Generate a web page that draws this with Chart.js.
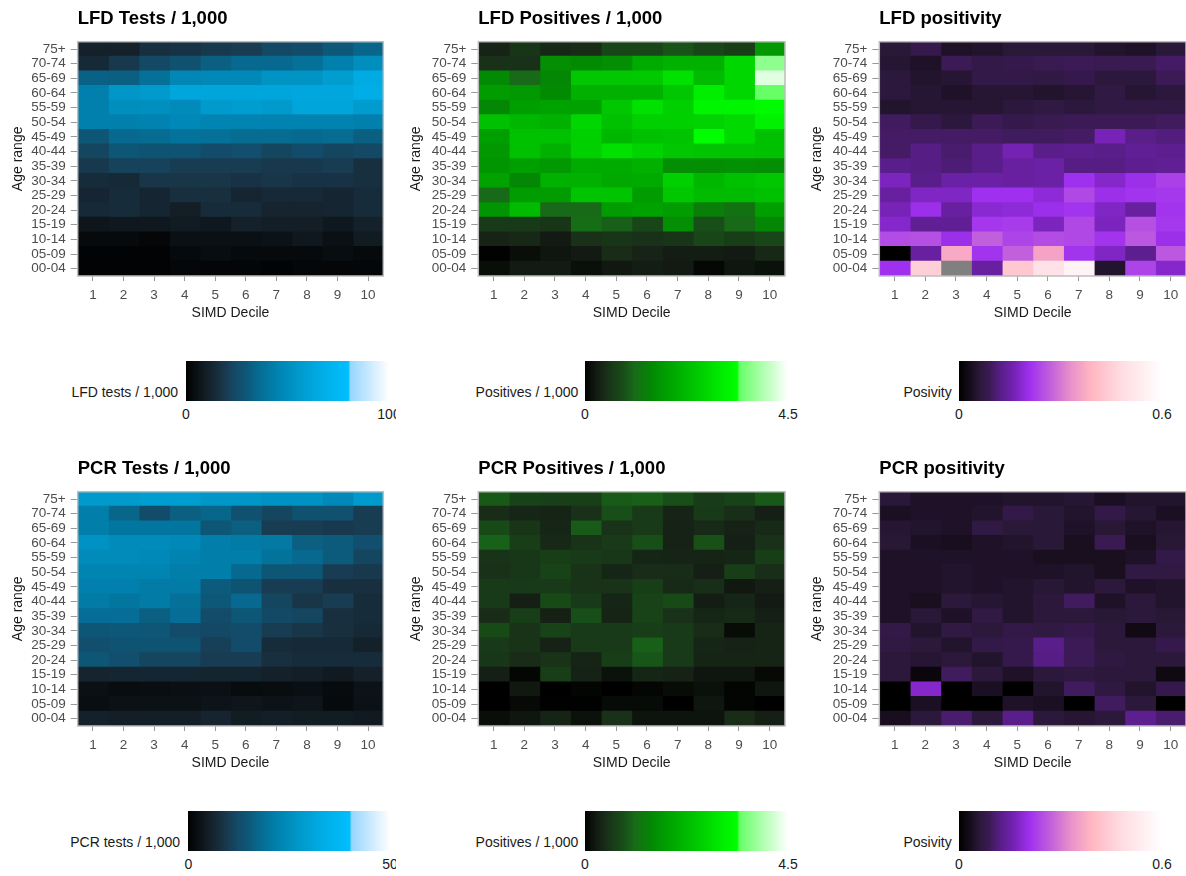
<!DOCTYPE html>
<html>
<head>
<meta charset="utf-8">
<script src="https://cdn.jsdelivr.net/npm/chart.js@4/dist/chart.umd.min.js"></script>
<style>
  html, body { margin: 0; padding: 0; background: #fff; }
  body { width: 1186px; height: 876px; position: relative; overflow: hidden;
         font-family: "Liberation Sans", Arial, Helvetica, sans-serif; }
  .panel { position: absolute; overflow: hidden; }
  .panel canvas { position: absolute; left: 0; top: 0; }
  .lg-label, .lg-tick { position: absolute; font-size: 14px; color: #1a1a1a; white-space: nowrap; }
  .lg-label { transform: translate(-100%, -50%); }
  .lg-tick { transform: translate(-50%, -50%); }
  .lg-bar { position: absolute; }
</style>
</head>
<body>
<script>
// categories (top row of the heatmap first)
const ageBands = ['75+', '70-74', '65-69', '60-64', '55-59', '50-54', '45-49', '40-44',
                  '35-39', '30-34', '25-29', '20-24', '15-19', '10-14', '05-09', '00-04'];
const simdDeciles = ['1', '2', '3', '4', '5', '6', '7', '8', '9', '10'];

// values per age band (rows) and SIMD decile (columns)
const lfdTests = [
  [11, 11, 16, 17, 19, 20, 24, 25, 30, 34],
  [14, 19, 24, 27, 32, 35, 35, 38, 44, 50],
  [33, 32, 38, 47, 48, 48, 53, 53, 58, 66],
  [44, 54, 56, 62, 62, 62, 62, 63, 63, 67],
  [44, 50, 51, 49, 56, 58, 56, 62, 62, 57],
  [44, 44, 45, 48, 46, 46, 45, 45, 45, 44],
  [29, 35, 36, 39, 38, 36, 36, 35, 36, 32],
  [23, 29, 28, 28, 25, 26, 23, 25, 23, 24],
  [19, 22, 22, 20, 20, 20, 19, 19, 20, 16],
  [15, 14, 18, 18, 18, 17, 18, 17, 17, 16],
  [13, 15, 13, 16, 16, 13, 14, 14, 13, 15],
  [14, 15, 13, 10, 15, 15, 12, 12, 13, 15],
  [7, 8, 8, 9, 8, 11, 10, 10, 8, 11],
  [3, 3, 2, 5, 5, 5, 6, 8, 5, 9],
  [1, 1, 1, 3, 4, 3, 3, 3, 4, 3],
  [1, 1, 1, 2, 1.5, 1.5, 1, 2, 2, 2]
];
const lfdPositives = [
  [0.35, 0.55, 0.4, 0.45, 0.75, 0.75, 0.9, 0.75, 0.65, 1.7],
  [0.5, 0.5, 1.55, 1.5, 1.55, 2.0, 2.1, 2.1, 2.7, 3.7],
  [1.5, 1.1, 1.45, 2.45, 2.45, 2.5, 2.85, 2.25, 2.7, 4.28],
  [1.75, 1.7, 1.5, 2.1, 2.1, 2.1, 2.45, 3.1, 2.7, 3.42],
  [1.45, 1.8, 1.85, 1.85, 2.45, 2.85, 2.6, 3.2, 3.2, 3.3],
  [2.35, 2.2, 2.1, 2.7, 2.35, 2.6, 2.6, 2.65, 2.75, 3.15],
  [1.8, 2.35, 2.35, 2.6, 2.2, 2.35, 2.4, 3.35, 2.75, 2.35],
  [1.7, 2.35, 2.1, 2.6, 2.85, 2.65, 2.45, 2.4, 2.4, 2.35],
  [1.65, 1.8, 1.7, 2.0, 2.0, 2.1, 1.55, 1.55, 1.6, 1.55],
  [1.85, 1.45, 2.1, 2.1, 1.95, 2.0, 2.6, 2.2, 2.35, 2.45],
  [1.1, 1.75, 1.75, 2.4, 2.4, 1.75, 2.45, 2.25, 2.25, 2.35],
  [1.65, 2.25, 1.1, 1.1, 1.75, 1.85, 1.75, 1.35, 1.2, 1.8],
  [0.6, 0.6, 0.55, 1.15, 1.0, 0.75, 1.55, 0.85, 1.1, 1.45],
  [0.35, 0.4, 0.25, 0.5, 0.55, 0.5, 0.55, 0.75, 0.65, 0.75],
  [0.02, 0.12, 0.2, 0.25, 0.45, 0.35, 0.28, 0.28, 0.25, 0.4],
  [0.12, 0.25, 0.25, 0.13, 0.22, 0.28, 0.25, 0.06, 0.2, 0.14]
];
const lfdPositivity = [
  [0.06, 0.08, 0.045, 0.05, 0.06, 0.06, 0.06, 0.05, 0.045, 0.06],
  [0.055, 0.045, 0.09, 0.075, 0.08, 0.085, 0.09, 0.085, 0.085, 0.1],
  [0.065, 0.05, 0.055, 0.075, 0.075, 0.07, 0.08, 0.065, 0.065, 0.09],
  [0.065, 0.055, 0.045, 0.055, 0.055, 0.05, 0.055, 0.07, 0.055, 0.065],
  [0.05, 0.055, 0.055, 0.055, 0.065, 0.07, 0.065, 0.07, 0.07, 0.07],
  [0.095, 0.08, 0.065, 0.09, 0.08, 0.085, 0.09, 0.09, 0.09, 0.095],
  [0.1, 0.1, 0.1, 0.1, 0.095, 0.095, 0.1, 0.165, 0.125, 0.115],
  [0.1, 0.12, 0.105, 0.125, 0.16, 0.125, 0.13, 0.125, 0.135, 0.13],
  [0.125, 0.12, 0.11, 0.125, 0.145, 0.15, 0.12, 0.12, 0.13, 0.135],
  [0.17, 0.125, 0.15, 0.15, 0.145, 0.15, 0.21, 0.18, 0.205, 0.23],
  [0.145, 0.175, 0.175, 0.21, 0.21, 0.19, 0.24, 0.205, 0.215, 0.22],
  [0.165, 0.205, 0.145, 0.185, 0.19, 0.205, 0.215, 0.175, 0.145, 0.215],
  [0.18, 0.135, 0.135, 0.22, 0.225, 0.17, 0.24, 0.17, 0.25, 0.22],
  [0.245, 0.25, 0.205, 0.27, 0.235, 0.245, 0.24, 0.215, 0.26, 0.205],
  [0, 0.145, 0.37, 0.215, 0.27, 0.36, 0.215, 0.175, 0.13, 0.26],
  [0.21, 0.45, null, 0.145, 0.43, 0.5, 0.56, 0.05, 0.235, 0.18]
];
const pcrTests = [
  [28, 28, 29, 29, 27, 27, 26, 26, 24, 28],
  [21.5, 17, 12.5, 16, 17, 13.5, 11.5, 13.5, 13.5, 10],
  [21.5, 20, 20, 20, 14.5, 16, 10, 10, 9.5, 10],
  [26, 24.5, 24.5, 24, 21.5, 21, 20.5, 16, 15.5, 13],
  [24.5, 24.5, 24, 22.5, 21.5, 21.5, 19.5, 17.5, 15.5, 11.5],
  [23, 23, 23, 21.5, 21.5, 17.5, 14.5, 14.5, 10, 9.5],
  [22, 22, 21, 21, 15.5, 14, 10, 10, 8, 8],
  [21, 20, 21, 19, 15, 17.5, 11.5, 9, 10, 7.5],
  [18.5, 18.5, 16, 18.5, 12.5, 14.5, 12, 11.5, 8, 7.5],
  [14.5, 15, 14.5, 12.5, 12, 12.5, 10, 9, 8, 7],
  [13, 14, 14, 14, 10.5, 12.5, 7.5, 7, 7, 5.5],
  [14.5, 13, 11.5, 11.5, 10, 10, 8, 7.5, 7.5, 7.5],
  [6, 6.5, 6.5, 6.5, 6.2, 6.2, 5.5, 5, 4.2, 5.5],
  [2.5, 2, 2.2, 2.4, 2.5, 1.8, 2, 2.3, 1.7, 3],
  [2.2, 2.7, 2.8, 2.8, 3.2, 3.6, 3, 3.4, 1.5, 2.9],
  [5.5, 5, 5, 5, 6, 4.6, 5, 4.6, 4.6, 4.2]
];
const pcrPositives = [
  [0.95, 0.72, 0.68, 0.68, 0.97, 1.0, 0.85, 0.62, 0.72, 0.95],
  [0.45, 0.38, 0.36, 0.5, 0.85, 0.6, 0.36, 0.6, 0.47, 0.3],
  [0.8, 0.55, 0.38, 0.97, 0.52, 0.6, 0.34, 0.42, 0.34, 0.42],
  [1.02, 0.65, 0.4, 0.52, 0.6, 0.85, 0.34, 0.87, 0.3, 0.5],
  [0.52, 0.57, 0.65, 0.6, 0.57, 0.38, 0.36, 0.36, 0.38, 0.65],
  [0.5, 0.57, 0.72, 0.52, 0.38, 0.45, 0.45, 0.3, 0.65, 0.47],
  [0.6, 0.6, 0.6, 0.52, 0.52, 0.65, 0.42, 0.47, 0.22, 0.3],
  [0.6, 0.3, 0.8, 0.6, 0.38, 0.72, 0.8, 0.28, 0.38, 0.25],
  [0.45, 0.65, 0.33, 0.85, 0.36, 0.72, 0.5, 0.38, 0.42, 0.3],
  [0.8, 0.52, 0.7, 0.6, 0.6, 0.65, 0.6, 0.45, 0.1, 0.36],
  [0.6, 0.52, 0.34, 0.6, 0.6, 1.0, 0.6, 0.38, 0.34, 0.36],
  [0.57, 0.45, 0.52, 0.36, 0.65, 0.92, 0.6, 0.36, 0.36, 0.36],
  [0.3, 0.05, 0.65, 0.34, 0.15, 0.38, 0.34, 0.2, 0.2, 0.08],
  [0, 0.22, 0, 0.04, 0, 0.05, 0.1, 0.14, 0.04, 0.2],
  [0, 0.08, 0.01, 0.01, 0.09, 0.09, 0, 0.2, 0.04, 0],
  [0.12, 0.2, 0.36, 0.15, 0.5, 0.17, 0.17, 0.17, 0.45, 0.3]
];
const pcrPositivity = [
  [0.06, 0.045, 0.045, 0.045, 0.05, 0.05, 0.055, 0.04, 0.05, 0.05],
  [0.04, 0.045, 0.045, 0.05, 0.075, 0.06, 0.05, 0.075, 0.055, 0.04],
  [0.055, 0.05, 0.045, 0.07, 0.06, 0.06, 0.045, 0.058, 0.045, 0.055],
  [0.058, 0.04, 0.035, 0.045, 0.05, 0.06, 0.037, 0.085, 0.037, 0.058],
  [0.045, 0.045, 0.045, 0.045, 0.045, 0.037, 0.037, 0.037, 0.045, 0.075],
  [0.045, 0.045, 0.05, 0.045, 0.045, 0.045, 0.05, 0.037, 0.07, 0.07],
  [0.045, 0.045, 0.05, 0.045, 0.05, 0.058, 0.05, 0.062, 0.045, 0.05],
  [0.045, 0.037, 0.062, 0.055, 0.05, 0.062, 0.095, 0.045, 0.062, 0.05],
  [0.045, 0.06, 0.045, 0.07, 0.05, 0.062, 0.062, 0.058, 0.062, 0.058],
  [0.075, 0.05, 0.07, 0.062, 0.075, 0.07, 0.08, 0.062, 0.025, 0.062],
  [0.07, 0.062, 0.05, 0.075, 0.08, 0.125, 0.09, 0.062, 0.062, 0.08],
  [0.062, 0.055, 0.062, 0.05, 0.08, 0.12, 0.09, 0.068, 0.062, 0.062],
  [0.062, 0.015, 0.095, 0.062, 0.045, 0.062, 0.068, 0.062, 0.062, 0.022],
  [0, 0.18, 0, 0.04, 0, 0.05, 0.095, 0.068, 0.05, 0.08],
  [0, 0.04, 0, 0, 0.045, 0.04, 0, 0.095, 0.062, 0],
  [0.035, 0.062, 0.105, 0.062, 0.125, 0.062, 0.055, 0.062, 0.13, 0.105]
];

// colour bar limits and tick labels
const lfdTestsTicks = ['0', '100'];
const pcrTestsTicks = ['0', '50'];
const positivesTicks = ['0', '4.5'];
const positivityTicks = ['0', '0.6'];

// gradients (position 0..1 along the colour bar)
const blueStops = [[0, '#000000'], [0.05, '#0a1014'], [0.1, '#131e26'], [0.15, '#172c3a'], [0.2, '#183c52'],
  [0.25, '#134c6a'], [0.3, '#0d5878'], [0.35, '#07698f'], [0.45, '#0083b0'], [0.55, '#0098ca'],
  [0.65, '#00aae2'], [0.8, '#00bfff'], [0.81, '#96d6ff'], [1, '#ffffff']];
const greenStops = [[0, '#000000'], [0.03, '#0a100a'], [0.06, '#141c14'], [0.1, '#182c18'], [0.133, '#183a18'],
  [0.19, '#184e18'], [0.244, '#186a18'], [0.32, '#048604'], [0.39, '#009c00'], [0.44, '#00aa00'],
  [0.52, '#00c000'], [0.58, '#00d000'], [0.63, '#00e000'], [0.71, '#00f500'], [0.75, '#00ff00'],
  [0.76, '#66ff66'], [1, '#ffffff']];
const purpleStops = [[0, '#000000'], [0.05, '#140c18'], [0.1, '#2a1838'], [0.15, '#3c1a56'], [0.2, '#561e84'],
  [0.27, '#7422b4'], [0.35, '#a030f0'], [0.45, '#c060dc'], [0.55, '#e890cc'], [0.65, '#ffb6c1'],
  [0.8, '#ffdce2'], [1, '#ffffff']];
const naColour = '#808080';

function hexRgb(h) {
  const n = parseInt(h.slice(1), 16);
  return [(n >> 16) & 255, (n >> 8) & 255, n & 255];
}
function colourFor(v, stops, max) {
  if (v === null) return naColour;
  const t = Math.min(Math.max(v / max, 0), 1);
  for (let i = 1; i < stops.length; i++) {
    if (t <= stops[i][0]) {
      const [t0, c0] = stops[i - 1], [t1, c1] = stops[i];
      const f = (t - t0) / (t1 - t0);
      const a = hexRgb(c0), b = hexRgb(c1);
      return 'rgb(' + a.map((x, k) => Math.round(x + (b[k] - x) * f)).join(',') + ')';
    }
  }
  return stops[stops.length - 1][1];
}

Chart.defaults.font.family = '"Liberation Sans", Arial, Helvetica, sans-serif';

// title above the plot + grey frame round it
const panelTitle = {
  id: 'panelTitle',
  afterDraw(chart, args, opts) {
    const { ctx, chartArea } = chart;
    ctx.save();
    ctx.strokeStyle = '#bdbdbd';
    ctx.lineWidth = 1.5;
    ctx.strokeRect(chartArea.left, chartArea.top, chartArea.right - chartArea.left, chartArea.bottom - chartArea.top);
    ctx.font = 'bold 18.5px "Liberation Sans", Arial, sans-serif';
    ctx.fillStyle = '#000';
    ctx.textBaseline = 'alphabetic';
    ctx.fillText(opts.text, chartArea.left, 23.5);
    ctx.restore();
  }
};

// panel boxes; the div width clips the legend text like the original
const cols = [
  { left: 0, width: 396, canvasWidth: 395, plotLeft: 77.7, padRight: 11.7, yTitlePad: 9.9 },
  { left: 395, width: 420, canvasWidth: 395, plotLeft: 83.3, padRight: 5, yTitlePad: 12.6 },
  { left: 790, width: 396, canvasWidth: 396, plotLeft: 89.3, padRight: 0, yTitlePad: 19.1 }
];
const rows = [{ top: 0, height: 450 }, { top: 450, height: 426 }];

const panels = [
  { col: 0, row: 0, title: 'LFD Tests / 1,000', values: lfdTests, stops: blueStops, max: 100,
    legendLabel: 'LFD tests / 1,000', ticks: lfdTestsTicks, labelRight: 178, bar: [186, 389] },
  { col: 1, row: 0, title: 'LFD Positives / 1,000', values: lfdPositives, stops: greenStops, max: 4.5,
    legendLabel: 'Positives / 1,000', ticks: positivesTicks, labelRight: 183.3, bar: [190, 393] },
  { col: 2, row: 0, title: 'LFD positivity', values: lfdPositivity, stops: purpleStops, max: 0.6,
    legendLabel: 'Posivity', ticks: positivityTicks, labelRight: 161.7, bar: [169, 372] },
  { col: 0, row: 1, title: 'PCR Tests / 1,000', values: pcrTests, stops: blueStops, max: 50,
    legendLabel: 'PCR tests / 1,000', ticks: pcrTestsTicks, labelRight: 180, bar: [188.3, 390] },
  { col: 1, row: 1, title: 'PCR Positives / 1,000', values: pcrPositives, stops: greenStops, max: 4.5,
    legendLabel: 'Positives / 1,000', ticks: positivesTicks, labelRight: 183.3, bar: [190, 393] },
  { col: 2, row: 1, title: 'PCR positivity', values: pcrPositivity, stops: purpleStops, max: 0.6,
    legendLabel: 'Posivity', ticks: positivityTicks, labelRight: 161.7, bar: [169, 372] }
];

const tickFont = { size: 13.5 };
const tickColour = '#4d4d4d';

panels.forEach(p => {
  const c = cols[p.col], r = rows[p.row];
  const div = document.createElement('div');
  div.className = 'panel';
  Object.assign(div.style, { left: c.left + 'px', top: r.top + 'px', width: c.width + 'px', height: r.height + 'px' });
  document.body.appendChild(div);

  const canvas = document.createElement('canvas');
  canvas.width = c.canvasWidth;
  canvas.height = 330;
  div.appendChild(canvas);

  // one stacked dataset per decile, each age band is a unit-length segment
  const datasets = simdDeciles.map((d, j) => ({
    label: d,
    data: ageBands.map(() => 1),
    backgroundColor: ageBands.map((a, i) => colourFor(p.values[i][j], p.stops, p.max)),
    borderWidth: 0,
    inflateAmount: 0.6,
    barPercentage: 1,
    categoryPercentage: 1
  }));

  new Chart(canvas.getContext('2d'), {
    type: 'bar',
    data: { labels: ageBands, datasets },
    plugins: [panelTitle],
    options: {
      indexAxis: 'y',
      responsive: false,
      animation: false,
      events: [],
      layout: { padding: { top: 41.7, right: c.padRight, bottom: 4, left: 0 } },
      plugins: {
        legend: { display: false },
        tooltip: { enabled: false },
        panelTitle: { text: p.title }
      },
      scales: {
        x: {
          type: 'linear',
          stacked: true,
          min: 0,
          max: simdDeciles.length,
          afterBuildTicks: s => { s.ticks = simdDeciles.map((d, j) => ({ value: j + 0.5 })); },
          afterFit: s => { s.height = 50; },
          ticks: {
            callback: (v, i) => simdDeciles[i],
            autoSkip: false, maxRotation: 0, font: tickFont, color: tickColour, padding: 6
          },
          grid: { drawOnChartArea: false, tickLength: 5, color: '#999' },
          border: { display: false },
          title: { display: true, text: 'SIMD Decile', font: { size: 14 }, color: '#1a1a1a',
                   padding: { top: 0, bottom: 4 } }
        },
        y: {
          type: 'category',
          stacked: true,
          afterFit: s => { s.width = c.plotLeft; },
          ticks: { autoSkip: false, font: tickFont, color: tickColour, padding: 5 },
          grid: { drawOnChartArea: false, offset: false, tickLength: 7, color: '#999' },
          border: { display: false },
          title: { display: true, text: 'Age range', font: { size: 14 }, color: '#1a1a1a',
                   padding: { top: c.yTitlePad, bottom: 0 } }
        }
      }
    }
  });

  // colour bar legend
  const bar = document.createElement('div');
  bar.className = 'lg-bar';
  Object.assign(bar.style, {
    left: p.bar[0] + 'px', top: '360.5px', width: (p.bar[1] - p.bar[0]) + 'px', height: '40.5px',
    background: 'linear-gradient(to right, ' + p.stops.map(s => s[1] + ' ' + (s[0] * 100) + '%').join(', ') + ')'
  });
  div.appendChild(bar);

  const lab = document.createElement('div');
  lab.className = 'lg-label';
  lab.textContent = p.legendLabel;
  Object.assign(lab.style, { left: p.labelRight + 'px', top: '392px' });
  div.appendChild(lab);

  p.ticks.forEach((t, k) => {
    const el = document.createElement('div');
    el.className = 'lg-tick';
    el.textContent = t;
    Object.assign(el.style, { left: p.bar[k] + 'px', top: '414px' });
    div.appendChild(el);
  });
});
</script>
</body>
</html>
